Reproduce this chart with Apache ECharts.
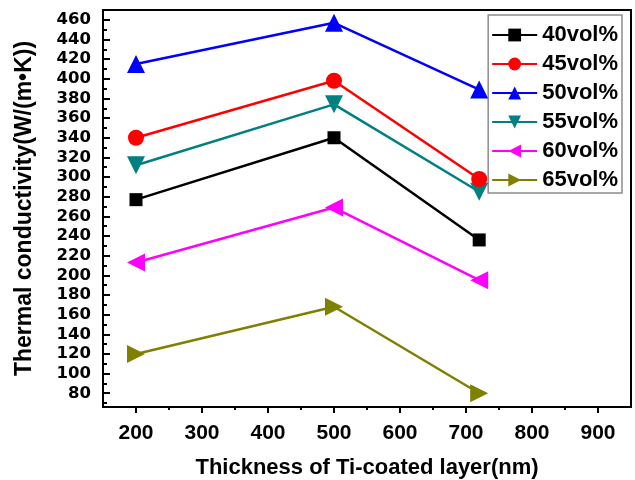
<!DOCTYPE html>
<html>
<head>
<meta charset="utf-8">
<script src="https://cdn.jsdelivr.net/npm/echarts@6/dist/echarts.min.js"></script>
<style>
html,body{margin:0;padding:0;background:#fff;}
#chart{width:635px;height:480px;}
</style>
</head>
<body>
<div id="chart"></div>
<script>
// Ti-coating thickness (nm) and thermal conductivity for each volume fraction
const thickness = [200, 500, 720];
const seriesNames = ['40vol%', '45vol%', '50vol%', '55vol%', '60vol%', '65vol%'];
const tc40 = [277, 340, 236];
const tc45 = [340, 398, 298];
const tc50 = [415, 457, 389];
const tc55 = [312, 374, 285];
const tc60 = [213, 269, 195];
const tc65 = [120, 168, 80];
const xMajorTicks = [200, 300, 400, 500, 600, 700, 800, 900];
const xMinorTicks = [250, 350, 450, 550, 650, 750, 850];
const yMajorTicks = [80,100,120,140,160,180,200,220,240,260,280,300,320,340,360,380,400,420,440,460];
const yMinorTicks = [70,90,110,130,150,170,190,210,230,250,270,290,310,330,350,370,390,410,430,450];

const seriesValues = [tc40, tc45, tc50, tc55, tc60, tc65];
const colors = ['#000000', '#ff0000', '#0000ff', '#008080', '#ff00ff', '#808000'];
const symbols = ['rect', 'circle', 'triangle', 'triangle', 'triangle', 'triangle'];
const rotations = [0, 0, 0, 180, 90, -90];
const sizes = [13, 16, 18, 18, 18, 18];

const chart = echarts.init(document.getElementById('chart'), null, { renderer: 'canvas' });

const series = seriesNames.map((name, i) => ({
  name: name,
  type: 'line',
  xAxisIndex: 0,
  yAxisIndex: 0,
  data: thickness.map((t, j) => [t, seriesValues[i][j]]),
  symbol: symbols[i],
  symbolSize: sizes[i],
  symbolRotate: rotations[i],
  showAllSymbol: true,
  lineStyle: { color: colors[i], width: 2.5 },
  itemStyle: { color: colors[i] },
  emphasis: { disabled: true },
  z: 10 - i
}));

chart.setOption({
  animation: false,
  grid: {
    left: 103, top: 10, right: 4, bottom: 73,
    outerBoundsMode: 'none', containLabel: false,
    show: true, borderColor: '#000', borderWidth: 2, backgroundColor: 'transparent'
  },
  legend: {
    data: seriesNames,
    orient: 'vertical',
    right: 13,
    top: 15,
    itemWidth: 45,
    itemHeight: 16,
    itemGap: 7,
    padding: [9, 4, 2, 3],
    borderColor: '#8c8c8c',
    borderWidth: 1.5,
    backgroundColor: '#fff',
    textStyle: { fontFamily: 'Liberation Sans', fontWeight: 'bold', fontSize: 22, color: '#000' },
    selectedMode: false
  },
  xAxis: [{
    type: 'value', min: 150, max: 950,
    name: 'Thickness of Ti-coated layer(nm)',
    nameLocation: 'middle', nameGap: 50,
    nameTextStyle: { fontFamily: 'Liberation Sans', fontWeight: 'bold', fontSize: 22, color: '#000' },
    axisLine: { show: true, onZero: false, lineStyle: { color: '#000', width: 2 } },
    axisTick: { show: true, inside: false, length: 6, lineStyle: { color: '#000', width: 2 }, customValues: xMajorTicks },
    axisLabel: { margin: 16, customValues: xMajorTicks, fontFamily: 'Liberation Sans', fontWeight: 'bold', fontSize: 21, color: '#000' },
    splitLine: { show: false }
  }, {
    type: 'value', min: 150, max: 950, position: 'bottom',
    axisLine: { show: false, onZero: false },
    axisTick: { show: true, inside: false, length: 3, lineStyle: { color: '#000', width: 2 }, customValues: xMinorTicks },
    axisLabel: { show: false },
    splitLine: { show: false }
  }],
  yAxis: [{
    type: 'value', min: 66, max: 470,
    name: 'Thermal conductivity(W/(m•K))',
    nameLocation: 'middle', nameGap: 67, nameRotate: 90,
    nameTextStyle: { fontFamily: 'Liberation Sans', fontWeight: 'bold', fontSize: 23, color: '#000' },
    axisLine: { show: true, onZero: false, lineStyle: { color: '#000', width: 2 } },
    axisTick: { show: true, inside: true, length: 7, lineStyle: { color: '#000', width: 2 }, customValues: yMajorTicks },
    axisLabel: { margin: 12, customValues: yMajorTicks, fontFamily: 'DejaVu Sans', fontWeight: 'bold', fontSize: 16.5, color: '#000' },
    splitLine: { show: false }
  }, {
    type: 'value', min: 66, max: 470, position: 'left',
    axisLine: { show: false, onZero: false },
    axisTick: { show: true, inside: true, length: 4, lineStyle: { color: '#000', width: 2 }, customValues: yMinorTicks },
    axisLabel: { show: false },
    splitLine: { show: false }
  }],
  series: series
});
</script>
</body>
</html>
